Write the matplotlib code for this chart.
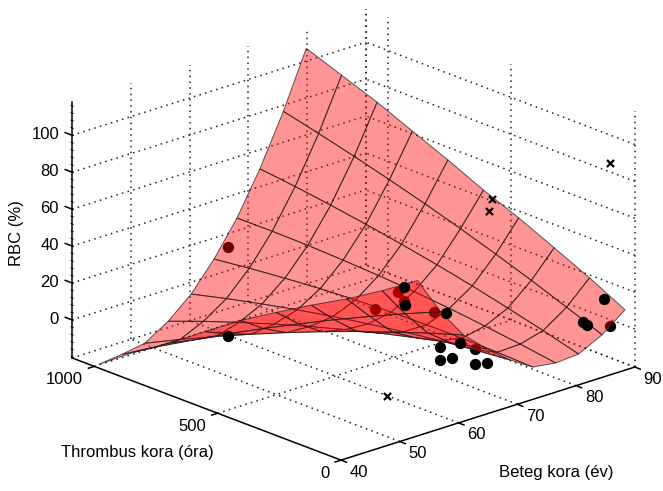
import numpy as np
import matplotlib
matplotlib.use('Agg')
import matplotlib.pyplot as plt
from mpl_toolkits.mplot3d import proj3d

plt.rcParams['font.family'] = ['Liberation Sans', 'DejaVu Sans']

# surface nodes: rows follow age, columns follow thrombus age
age = [54.3, 58.2, 62.1, 66.1, 70.0, 73.9, 77.8, 81.7, 85.7, 89.6]
thrombus = [30, 174, 317, 461, 604, 748, 892, 1035, 1179, 1322]
rbc = [
    [60.7, 47.9, 36.2, 25.5, 14.3, 2.7, -10.7, -24.1, -36.4, -50.2],
    [39.9, 31.5, 22.8, 13.7, 4.2, -5.6, -15.8, -26.5, -37.4, -48.8],
    [23.4, 17.1, 10.4, 3.4, -4.0, -11.8, -20.0, -28.5, -37.4, -46.7],
    [11.8, 7.7, 3.2, -1.6, -6.9, -12.5, -18.5, -24.9, -31.6, -38.8],
    [1.9, 0.1, -2.1, -4.7, -7.7, -11.0, -14.7, -18.8, -23.2, -28.0],
    [-5.9, -5.2, -4.8, -4.9, -5.3, -6.0, -7.2, -8.8, -10.7, -13.0],
    [-7.6, -4.7, -2.2, 0.1, 1.9, 3.3, 4.3, 5.1, 5.4, 5.3],
    [-6.7, -1.3, 3.6, 8.3, 12.5, 16.3, 19.8, 22.9, 25.7, 28.0],
    [-0.3, 7.3, 14.6, 21.5, 28.0, 34.2, 39.9, 45.3, 50.4, 55.1],
    [9.3, 19.3, 28.3, 37.2, 45.0, 54.0, 62.3, 70.7, 78.0, 85.3],
]

# patients seen through the surface
under_age = [41.75, 50.7, 52.75, 47.8, 58.9, 63.8, 86.8]
under_thr = [500, 24, 48, 48, 72, 24, 24]
under_rbc = [67.7, 58.6, 50.5, 51.1, 37.1, 14.4, 3.7]

# patients in front of the surface
over_age = [51.7, 52.9, 60.9, 57.9, 57.9, 60.9, 62.3, 63.8, 66.9, 86.8, 82.2, 82.9, 41.75]
over_thr = [24, 48, 72, 24, 24, 48, 48, 24, 48, 48, 24, 24, 500]
over_rbc = [60.3, 48.2, 34.4, 21.5, 14.4, 11.2, 18.0, 6.2, 2.5, 17.2, 10.5, 8.2, 19.3]

cross_age = [88.8, 68.7, 68.2, 49.85]
cross_thr = [72, 72, 72, 48]
cross_rbc = [87.2, 88.0, 82.0, 1.8]

age_ticks = [40, 50, 60, 70, 80, 90]
thr_ticks = [0, 500, 1000]
rbc_ticks = [0, 20, 40, 60, 80, 100]
rbc_minor = np.arange(-20, 117, 4)

a0, a1 = 40, 90
t0, t1 = 0, 1090
z0, z1 = -20.6, 118

fig = plt.figure(figsize=(6.63, 4.91), dpi=100)
ax = fig.add_axes([-6 / 663, -103 / 491, 700 / 663, 700 / 491], projection='3d', computed_zorder=False)
ax.set_proj_type('ortho')
ax.view_init(elev=20.3, azim=-132.4)
ax.set_box_aspect((398, 399, 273), zoom=0.868)
ax.set_xticks([])
ax.set_yticks([])
ax.set_zticks([])
ax.set_xlim(a0, a1)
ax.set_ylim(t0, t1)
ax.set_zlim(z0, z1)
ax.set_axis_off()
ax.patch.set_alpha(0)

dots = dict(color='#222222', lw=1.1, ls=(0, (1, 2.8)), zorder=1)

# floor and wall grid
for a in age_ticks[1:]:
    ax.plot([a, a], [t0, t1], [z0, z0], **dots)
    ax.plot([a, a], [t1, t1], [z0, z1], **dots)
for t in thr_ticks[1:]:
    ax.plot([a0, a1], [t, t], [z0, z0], **dots)
for t in thr_ticks:
    ax.plot([a1, a1], [t, t], [z0, z1], **dots)
ax.plot([a0, a1], [t1, t1], [z0, z0], **dots)
ax.plot([a1, a1], [t0, t1], [z0, z0], **dots)
ax.plot([a1, a1], [t1, t1], [z0, z1], **dots)
for z in rbc_ticks:
    ax.plot([a0, a1], [t1, t1], [z, z], **dots)
    ax.plot([a1, a1], [t0, t1], [z, z], **dots)

ax.scatter(under_age, under_thr, under_rbc, c='k', s=66, depthshade=False, linewidths=0, zorder=2)

X, Y = np.meshgrid(age, thrombus, indexing='ij')
ax.plot_surface(X, Y, np.array(rbc), rstride=1, cstride=1, color=(1, 0, 0, 0.42),
                edgecolors=(0.1, 0.1, 0.1, 0.7), linewidth=0.7, shade=False, zorder=3)

ax.scatter(over_age, over_thr, over_rbc, c='k', s=66, depthshade=False, linewidths=0, zorder=4)
ax.scatter(cross_age, cross_thr, cross_rbc, c='k', marker='x', s=26, depthshade=False, linewidths=1.6, zorder=4)

# box edges and ticks
line = dict(color='k', lw=1.1, zorder=5)
ax.plot([a0, a1], [t0, t0], [z0, z0], **line)
ax.plot([a0, a0], [t0, t1], [z0, z0], **line)
ax.plot([a0, a0], [t1, t1], [z0, z1], **line)

for a in age_ticks:
    ax.plot([a, a], [t0, t0 - 22], [z0, z0], **line)
for t in thr_ticks:
    ax.plot([a0, a0 - 1], [t, t], [z0, z0], **line)
for z in rbc_ticks:
    ax.plot([a0, a0], [t1, t1 + 28], [z, z], **line)
for z in rbc_minor:
    ax.plot([a0, a0], [t1 - 5, t1 + 5], [z, z], color='k', lw=0.6, zorder=5)

fig.canvas.draw()


def tick_label(x, y, z, s, ha):
    # put the label where the 3d point lands on the figure
    px, py, _ = proj3d.proj_transform(x, y, z, ax.get_proj())
    fx, fy = ax.transData.transform((px, py))
    fig.text(fx / 663, fy / 491, s, ha=ha, va='center', fontsize=12)


for a in age_ticks:
    tick_label(a + 1.5, t0, z0 - 8, str(a), 'left')
for t in thr_ticks:
    tick_label(a0, t + 45, z0 - 9.3, str(t), 'right')
for z in rbc_ticks:
    tick_label(a0, t1 + 53, z - 2.5, str(z), 'right')

fig.text(17 / 663, 1 - 233 / 491, 'RBC (%)', rotation=90, ha='center', va='center', fontsize=12)
fig.text(137 / 663, 1 - 452 / 491, 'Thrombus kora (óra)', ha='center', va='center', fontsize=12)
fig.text(556 / 663, 1 - 473 / 491, 'Beteg kora (év)', ha='center', va='center', fontsize=12)

fig.savefig('out.png', dpi=100)
